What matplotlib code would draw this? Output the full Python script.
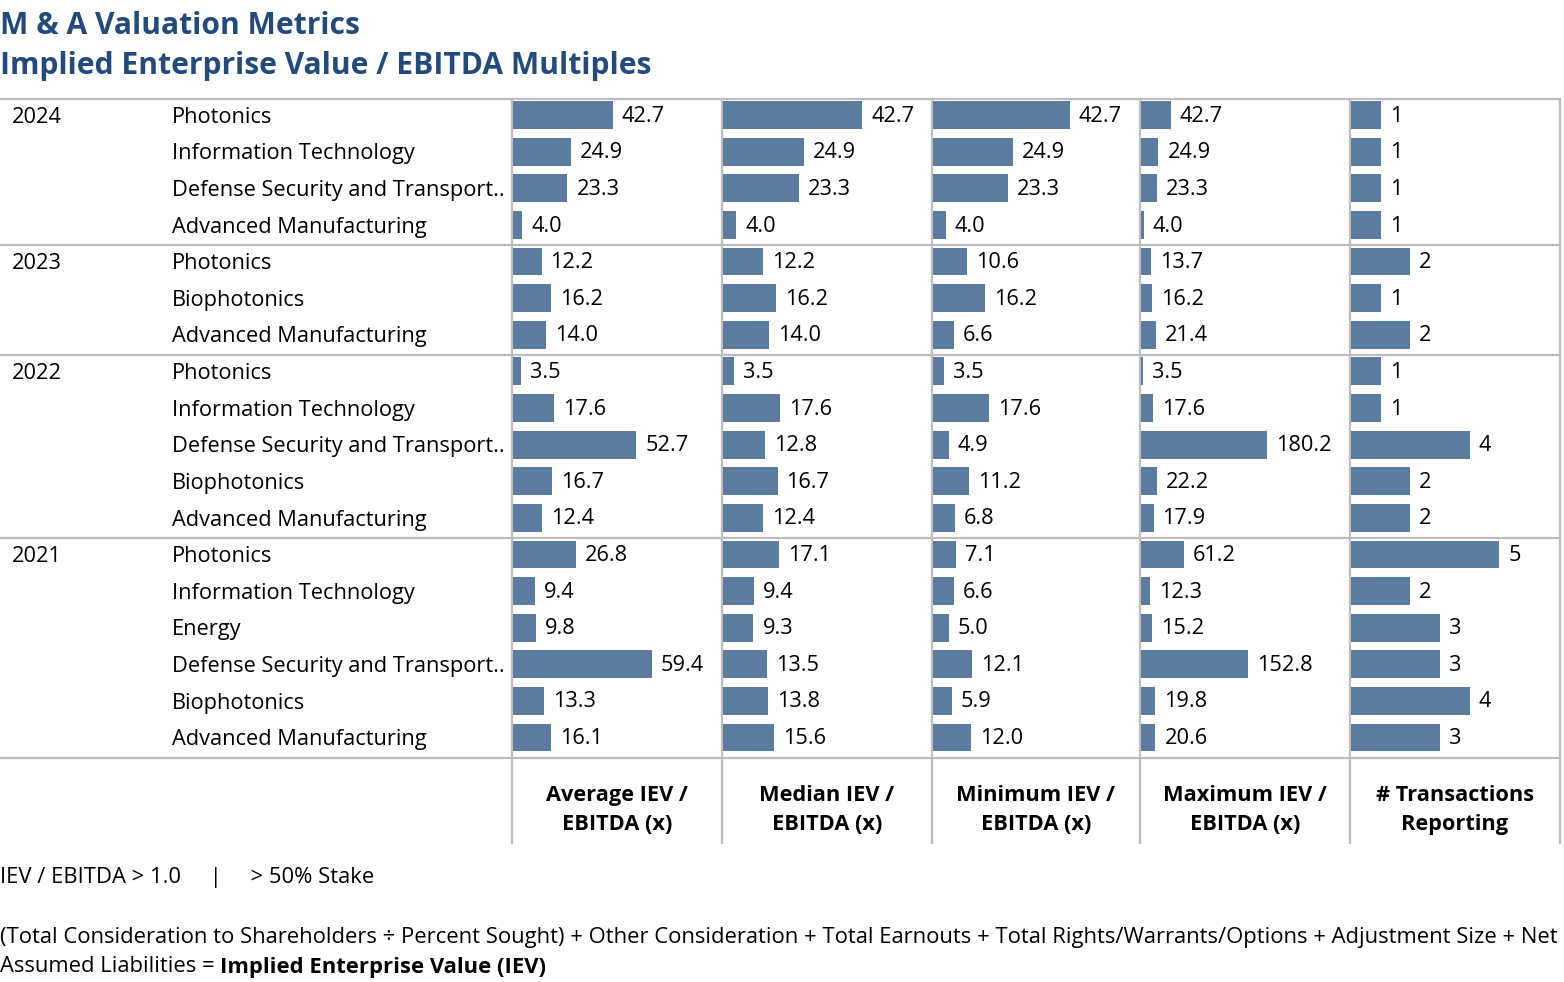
import matplotlib
matplotlib.use("Agg")
import matplotlib.pyplot as plt

plt.rcParams["font.family"] = ["Open Sans", "DejaVu Sans"]

# ---- data -------------------------------------------------------------------
years = ["2024", "2023", "2022", "2021"]
sectors = [
    ["Photonics", "Information Technology", "Defense Security and Transport..", "Advanced Manufacturing"],
    ["Photonics", "Biophotonics", "Advanced Manufacturing"],
    ["Photonics", "Information Technology", "Defense Security and Transport..", "Biophotonics",
     "Advanced Manufacturing"],
    ["Photonics", "Information Technology", "Energy", "Defense Security and Transport..", "Biophotonics",
     "Advanced Manufacturing"],
]
avg_iev = [42.7, 24.9, 23.3, 4.0, 12.2, 16.2, 14.0, 3.5, 17.6, 52.7, 16.7, 12.4,
           26.8, 9.4, 9.8, 59.4, 13.3, 16.1]
median_iev = [42.7, 24.9, 23.3, 4.0, 12.2, 16.2, 14.0, 3.5, 17.6, 12.8, 16.7, 12.4,
              17.1, 9.4, 9.3, 13.5, 13.8, 15.6]
min_iev = [42.7, 24.9, 23.3, 4.0, 10.6, 16.2, 6.6, 3.5, 17.6, 4.9, 11.2, 6.8,
           7.1, 6.6, 5.0, 12.1, 5.9, 12.0]
max_iev = [42.7, 24.9, 23.3, 4.0, 13.7, 16.2, 21.4, 3.5, 17.6, 180.2, 22.2, 17.9,
           61.2, 12.3, 15.2, 152.8, 19.8, 20.6]
n_transactions = [1, 1, 1, 1, 2, 1, 2, 1, 1, 4, 2, 2, 5, 2, 3, 3, 4, 3]

headers = ["Average IEV /\nEBITDA (x)", "Median IEV /\nEBITDA (x)", "Minimum IEV /\nEBITDA (x)",
           "Maximum IEV /\nEBITDA (x)", "# Transactions\nReporting"]
columns = [avg_iev, median_iev, min_iev, max_iev, n_transactions]
xmax = [89.4, 64.0, 64.7, 298.0, 7.05]
fmts = ["{:.1f}", "{:.1f}", "{:.1f}", "{:.1f}", "{:d}"]

# ---- layout (pixels) --------------------------------------------------------
W, H = 1564, 982
col_edges = [512, 722, 932, 1140, 1350, 1560]
table_top, table_bot, header_bot = 99, 758, 843
bar_color = "#5b7ba1"
line_color = "#bdbdbd"
title_color = "#234a7c"
fs = 15.7

n_rows = sum(len(s) for s in sectors)


def px_axes(x0, y0, x1, y1):
    return fig.add_axes([x0 / W, 1 - y1 / H, (x1 - x0) / W, (y1 - y0) / H])


fig = plt.figure(figsize=(W / 100, H / 100), dpi=100)

# overlay for lines and free text
ov = px_axes(0, 0, W, H)
ov.set_xlim(0, W)
ov.set_ylim(H, 0)
ov.axis("off")

# row labels
lab = px_axes(0, table_top, col_edges[0], table_bot)
lab.set_xlim(0, col_edges[0])
lab.set_ylim(n_rows, 0)
lab.axis("off")
r = 0
for year, secs in zip(years, sectors):
    lab.text(12, r + 0.5, year, fontsize=fs, va="center", ha="left")
    for s in secs:
        lab.text(172, r + 0.5, s, fontsize=fs, va="center", ha="left")
        r += 1

# bar columns
rows = [i + 0.44 for i in range(n_rows)]
for k, (vals, xm, fmt) in enumerate(zip(columns, xmax, fmts)):
    ax = px_axes(col_edges[k] + 1, table_top, col_edges[k + 1], table_bot)
    ax.barh(rows, vals, height=0.76, color=bar_color, linewidth=0)
    ax.set_xlim(0, xm)
    ax.set_ylim(n_rows, 0)
    ax.axis("off")
    for y, v in zip(rows, vals):
        ax.annotate(fmt.format(v), (v, y + 0.03), xytext=(6.5, 0), textcoords="offset points",
                    fontsize=fs, va="center", ha="left")
    ov.text((col_edges[k] + col_edges[k + 1]) / 2, 810, headers[k], fontsize=fs,
            fontweight="bold", ha="center", va="center", linespacing=1.5)

# grid lines
lw = 1.6
ov.plot([0, col_edges[-1]], [table_top, table_top], color=line_color, lw=lw)
cum = 0
for secs in sectors:
    cum += len(secs)
    yy = table_top + (table_bot - table_top) * cum / n_rows
    ov.plot([0, col_edges[-1]], [yy, yy], color=line_color, lw=lw)
for x in col_edges[:-1]:
    ov.plot([x, x], [table_top, header_bot], color=line_color, lw=lw)
ov.plot([col_edges[-1], col_edges[-1]], [table_top, header_bot], color=line_color, lw=lw)

# titles
ov.text(0, 26, "M & A Valuation Metrics", fontsize=21.6, fontweight="bold", color=title_color,
        va="center", ha="left")
ov.text(0, 66, "Implied Enterprise Value / EBITDA Multiples", fontsize=21.6, fontweight="bold",
        color=title_color, va="center", ha="left")

# footnotes
fs_note = 15.85
ov.text(0, 877, "IEV / EBITDA > 1.0     |     > 50% Stake", fontsize=fs_note, va="center", ha="left")
ov.text(0, 937, "(Total Consideration to Shareholders \u00f7 Percent Sought) + Other Consideration + "
        "Total Earnouts + Total Rights/Warrants/Options + Adjustment Size + Net",
        fontsize=fs_note, va="center", ha="left")
t = ov.text(0, 967, "Assumed Liabilities = ", fontsize=fs_note, va="center", ha="left")
ov.annotate("Implied Enterprise Value (IEV)", xy=(1, 0), xycoords=t, va="bottom", ha="left",
            fontsize=fs_note, fontweight="bold")

fig.savefig("out.png", dpi=100)
